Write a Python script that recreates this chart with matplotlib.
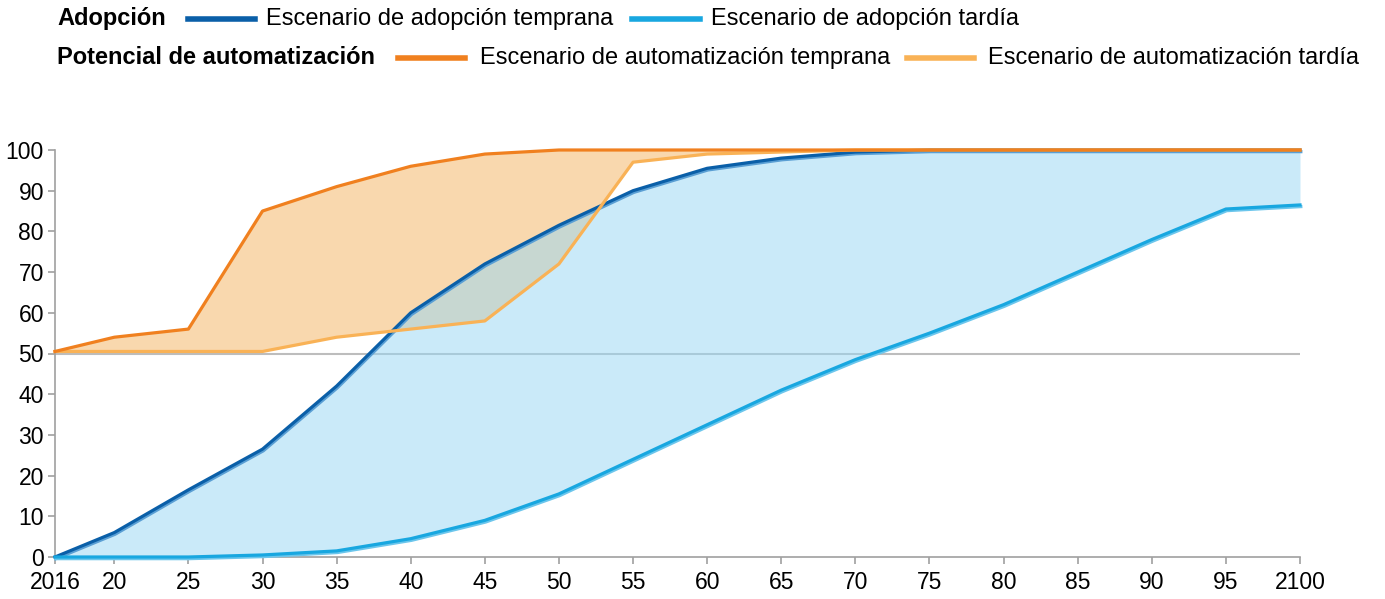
import matplotlib
matplotlib.use("Agg")
import matplotlib.pyplot as plt
from matplotlib.lines import Line2D
import matplotlib.patheffects as pe

plt.rcParams['font.family'] = ['Liberation Sans', 'DejaVu Sans']

years = [2016, 2020, 2025, 2030, 2035, 2040, 2045, 2050, 2055, 2060,
         2065, 2070, 2075, 2080, 2085, 2090, 2095, 2100]
tick_labels = ["2016", "20", "25", "30", "35", "40", "45", "50", "55", "60",
               "65", "70", "75", "80", "85", "90", "95", "2100"]

adopt_early = [0, 6, 16.5, 26.5, 42, 60, 72, 81.5, 90, 95.5,
               98, 99.5, 100, 100, 100, 100, 100, 100]
adopt_late = [0, 0, 0, 0.5, 1.5, 4.5, 9, 15.5, 24, 32.5,
              41, 48.5, 55, 62, 70, 78, 85.5, 86.5]
auto_early = [50.5, 54, 56, 85, 91, 96, 99, 100, 100, 100,
              100, 100, 100, 100, 100, 100, 100, 100]
auto_late = [50.5, 50.5, 50.5, 50.5, 54, 56, 58, 72, 97, 99,
             99.5, 100, 100, 100, 100, 100, 100, 100]

C_DB = '#0a5fa8'
C_LB = '#18a7e0'
C_DO = '#f0801f'
C_LO = '#f9b256'
FILL_O = '#f9d8ae'
FILL_B = (151/255, 215/255, 245/255)

fig = plt.figure(figsize=(13.85, 5.99), dpi=100)
ax = fig.add_axes([55/1385, 1-557/599, (1300-55)/1385, (557-150)/599])

ax.axhline(50, color='#bdbdbd', lw=1.5, zorder=1)
ax.fill_between(years, auto_late, auto_early, color=FILL_O, lw=0, zorder=2)
ax.fill_between(years, adopt_late, adopt_early, color=FILL_B, alpha=0.5, lw=0, zorder=3)

def shadow(c):
    return [pe.SimpleLineShadow(offset=(0.6, -1.2), shadow_color=c, alpha=1.0), pe.Normal()]

ax.plot(years, adopt_early, color=C_DB, lw=2.3, zorder=4, clip_on=False,
        path_effects=shadow('#5a9fd4'))
ax.plot(years, adopt_late, color=C_LB, lw=2.3, zorder=4, clip_on=False,
        path_effects=shadow('#6cc6ec'))
ax.plot(years, auto_late, color=C_LO, lw=2.3, zorder=5, clip_on=False)
ax.plot(years, auto_early, color=C_DO, lw=2.3, zorder=6, clip_on=False)

ax.set_xlim(2016, 2100)
ax.set_ylim(0, 100)
ax.set_xticks(years)
ax.set_xticklabels(tick_labels)
ax.set_yticks(range(0, 101, 10))
for s in ['top', 'right']:
    ax.spines[s].set_visible(False)
for s in ['left', 'bottom']:
    ax.spines[s].set_color('#a0a0a0')
    ax.spines[s].set_linewidth(1.2)
ax.tick_params(axis='both', colors='#a0a0a0', labelcolor='black', labelsize=16.5,
               length=5, width=1.2)
ax.tick_params(axis='y', pad=3)
ax.tick_params(axis='x', pad=5)
ax.patch.set_alpha(0)

# Legend (manual)
fs = 17
def ftxt(x, y, s, bold=False):
    fig.text(x/1385, 1-y/599, s, fontsize=fs, fontweight='bold' if bold else 'normal',
             va='center', ha='left')
def fline(x0, x1, y, c):
    fig.add_artist(Line2D([x0/1385, x1/1385], [1-y/599, 1-y/599], color=c, lw=4,
                          transform=fig.transFigure))

y1, y2 = 19, 58
ftxt(57, y1, "Adopción", bold=True)
fline(188, 255, y1, C_DB)
ftxt(266, y1, "Escenario de adopción temprana")
fline(632, 700, y1, C_LB)
ftxt(711, y1, "Escenario de adopción tardía")

ftxt(57, y2, "Potencial de automatización", bold=True)
fline(398, 465, y2, C_DO)
ftxt(480, y2, "Escenario de automatización temprana")
fline(907, 974, y2, C_LO)
ftxt(988, y2, "Escenario de automatización tardía")

fig.savefig("out.png", dpi=100)
